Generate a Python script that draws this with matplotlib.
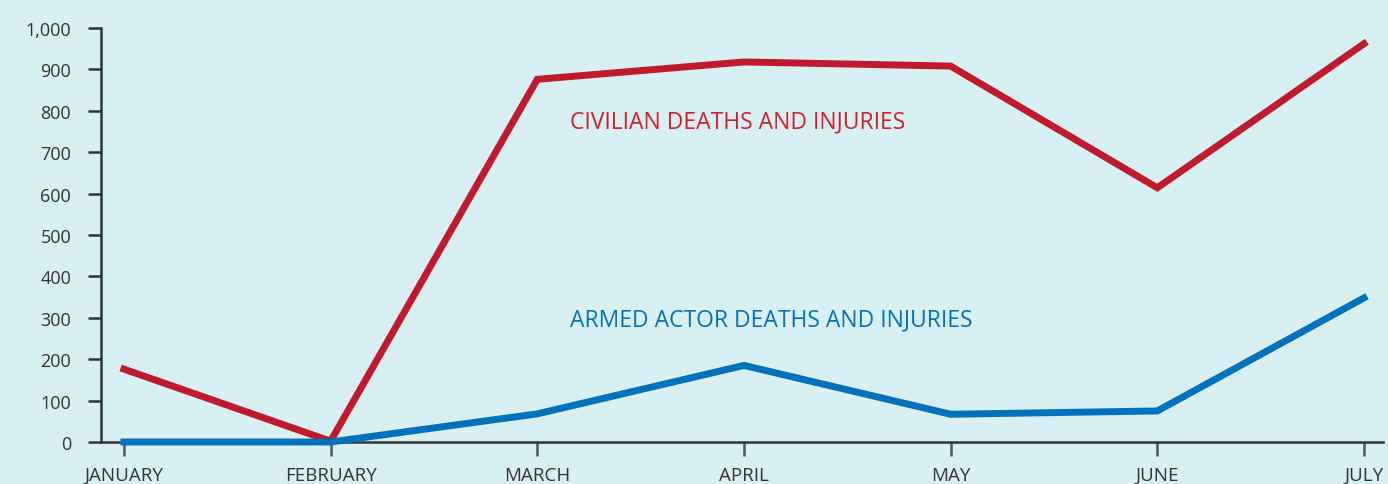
import matplotlib.pyplot as plt

months = ['JANUARY', 'FEBRUARY', 'MARCH', 'APRIL', 'MAY', 'JUNE', 'JULY']
civilian = [176, 2, 876, 918, 908, 614, 962]
armed = [0, 0, 68, 185, 67, 75, 348]
yticks = [0, 100, 200, 300, 400, 500, 600, 700, 800, 900, 1000]

bg = '#d8eff4'
red = '#c01b2c'
blue = '#0072bc'
dark = '#333333'

plt.rcParams['font.family'] = ['Open Sans', 'DejaVu Sans']

fig = plt.figure(figsize=(13.88, 4.85), dpi=100, facecolor=bg)
ax = fig.add_axes([101 / 1388, 42 / 485, 1282 / 1388, 414 / 485])
ax.set_facecolor(bg)

x = list(range(len(months)))
ax.plot(x, civilian, color=red, linewidth=5, solid_joinstyle='miter', clip_on=False, zorder=3)
ax.plot(x, armed, color=blue, linewidth=5, solid_joinstyle='miter', clip_on=False, zorder=4)

ax.set_xlim(-0.111, 6.092)
ax.set_ylim(0, 1000)

ax.set_yticks(yticks)
ax.set_yticklabels([f'{v:,}' for v in yticks])
ax.set_xticks(x)
ax.set_xticklabels(months)

for s in ['top', 'right']:
    ax.spines[s].set_visible(False)
for s in ['left', 'bottom']:
    ax.spines[s].set_color(dark)
    ax.spines[s].set_linewidth(1.8)

ax.tick_params(axis='y', length=9.5, width=1.8, color=dark, pad=12, labelsize=13, labelcolor=dark)
ax.tick_params(axis='x', length=10, width=1.8, color='#555555', pad=7, labelsize=13.5, labelcolor=dark)

ax.text(2.16, 775, 'CIVILIAN DEATHS AND INJURIES', color='#d0202e', fontsize=16.5,
        va='center', ha='left')
ax.text(2.16, 297, 'ARMED ACTOR DEATHS AND INJURIES', color=blue, fontsize=16.5,
        va='center', ha='left')

fig.savefig('out.png', dpi=100, facecolor=bg)
